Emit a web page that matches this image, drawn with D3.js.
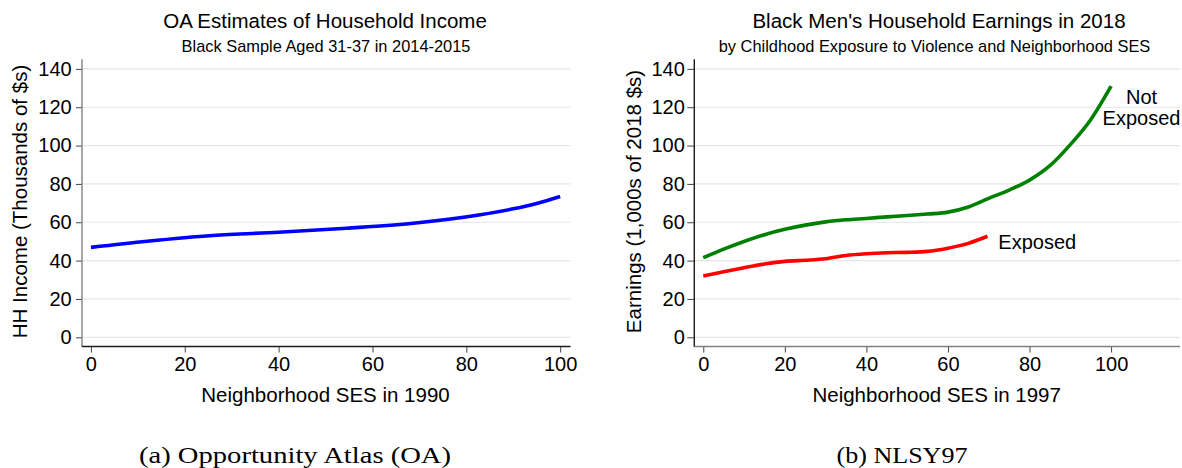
<!DOCTYPE html>
<html>
<head>
<meta charset="utf-8">
<script src="https://cdn.jsdelivr.net/npm/d3@7"></script>
<style>
  html, body { margin: 0; padding: 0; background: #fff; }
  svg text { font-family: "Liberation Sans", Arial, Helvetica, sans-serif; fill: #000; }
  svg text.caption { font-family: "Liberation Serif", "DejaVu Serif", serif; }
</style>
</head>
<body>
<svg id="chart" width="1182" height="468"></svg>
<script>
// ---- Data ----
const yTicks = [0, 20, 40, 60, 80, 100, 120, 140];
const xTicks = [0, 20, 40, 60, 80, 100];

// Panel (a): Opportunity Atlas household income by 1990 neighborhood SES
const oaSES    = [0, 12, 26, 40, 54.5, 68.7, 83, 90, 95, 100];
const oaIncome = [46.9, 50.1, 53.1, 54.8, 56.9, 59.5, 63.9, 67, 69.8, 73.4];

// Panel (b): NLSY97 earnings by 1997 neighborhood SES
const notExpSES      = [0, 5, 10, 15, 20, 25, 30, 35, 40, 45, 50, 55, 60, 65, 70, 75, 80, 85, 90, 95, 100];
const notExpEarnings = [41.5, 46, 50, 53.5, 56.3, 58.5, 60.2, 61.3, 62, 62.8, 63.5, 64.3, 65.3, 68, 72.5, 76.8, 82, 89.5, 100.5, 113.5, 131];
const expSES         = [0, 5, 10, 15, 20, 25, 30, 35, 40, 45, 50, 55, 60, 65, 69.7];
const expEarnings    = [32, 34.2, 36.3, 38.2, 39.6, 40.2, 41, 42.7, 43.6, 44.1, 44.3, 44.8, 46.5, 49, 52.7];

const svg = d3.select("#chart");

function panel(opts) {
  const g = svg.append("g");
  const x = d3.scaleLinear().domain(opts.xDomain).range(opts.xRange);
  const y = d3.scaleLinear().domain([-4.8, 145]).range([346.5, 59.3]);
  const [x0, x1] = opts.xRange;
  const [yb, yt] = y.range();

  // horizontal gridlines
  g.append("g").selectAll("line").data(yTicks).join("line")
    .attr("x1", x0).attr("x2", x1)
    .attr("y1", d => y(d)).attr("y2", d => y(d))
    .attr("stroke", "#e6e6e6").attr("stroke-width", 1.2);

  // y axis
  const ya = g.append("g").attr("transform", `translate(${x0},0)`)
    .call(d3.axisLeft(y).tickValues(yTicks).tickSize(opts.yTickSize).tickPadding(opts.yTickPad));
  ya.select(".domain").remove();
  ya.selectAll(".tick line").attr("stroke", "#444").attr("stroke-width", 1);
  ya.selectAll(".tick text").style("font-size", "20px").attr("fill", "#000");

  // x axis
  const xa = g.append("g").attr("transform", `translate(0,${yb})`)
    .call(d3.axisBottom(x).tickValues(xTicks).tickSize(6).tickPadding(4.5));
  xa.select(".domain").remove();
  xa.selectAll(".tick line").attr("stroke", "#444").attr("stroke-width", 1);
  xa.selectAll(".tick text").style("font-size", "20px").attr("fill", "#000");

  // axis lines
  g.append("line").attr("x1", x0).attr("x2", x0).attr("y1", yt).attr("y2", yb + 0.5)
    .attr("stroke", opts.yAxisColor).attr("stroke-width", 1.4);
  g.append("line").attr("x1", x0).attr("x2", x1).attr("y1", yb).attr("y2", yb)
    .attr("stroke", opts.xAxisColor).attr("stroke-width", 1.4);

  // series
  const line = d3.line().x(d => x(d[0])).y(d => y(d[1])).curve(d3.curveMonotoneX);
  opts.series.forEach(s => {
    g.append("path").datum(d3.zip(s.x, s.y))
      .attr("d", line)
      .attr("fill", "none")
      .attr("stroke", s.color)
      .attr("stroke-width", 3.6)
      .attr("stroke-linecap", "butt");
  });

  // titles
  g.append("text").attr("x", opts.titleX).attr("y", 28.3)
    .attr("text-anchor", "middle").style("font-size", "20.5px").text(opts.title);
  g.append("text").attr("x", opts.subX).attr("y", 51.5)
    .attr("text-anchor", "middle").style("font-size", "16.4px").text(opts.subtitle);

  // axis titles
  g.append("text").attr("transform", `translate(${opts.yLabelX},${201.5}) rotate(-90)`)
    .attr("text-anchor", "middle").style("font-size", "20.5px").text(opts.yLabel);
  g.append("text").attr("x", opts.xLabelX).attr("y", 402)
    .attr("text-anchor", "middle").style("font-size", "20.5px").text(opts.xLabel);

  // sub-figure caption
  g.append("text").attr("class", "caption").attr("x", opts.capX).attr("y", 463)
    .attr("text-anchor", "middle").style("font-size", "24px")
    .attr("textLength", opts.capLen).attr("lengthAdjust", "spacingAndGlyphs")
    .text(opts.caption);

  return { g, x, y };
}

// Panel (a)
panel({
  xDomain: [-1.9, 102.2], xRange: [82, 570.5],
  yTickSize: 6, yTickPad: 4.3,
  yAxisColor: "#808080", xAxisColor: "#1a1a1a",
  series: [{ x: oaSES, y: oaIncome, color: "#0000ff" }],
  title: "OA Estimates of Household Income",
  subtitle: "Black Sample Aged 31-37 in 2014-2015",
  titleX: 325, subX: 326,
  yLabel: "HH Income (Thousands of $s)", yLabelX: 27,
  xLabel: "Neighborhood SES in 1990", xLabelX: 325.5,
  caption: "(a) Opportunity Atlas (OA)", capX: 295, capLen: 312
});

// Panel (b)
const pb = panel({
  xDomain: [-2.2, 116.9], xRange: [694.3, 1180],
  yTickSize: 7, yTickPad: 2.5,
  yAxisColor: "#1a1a1a", xAxisColor: "#808080",
  series: [
    { x: notExpSES, y: notExpEarnings, color: "#008000" },
    { x: expSES, y: expEarnings, color: "#ff0000" }
  ],
  title: "Black Men's Household Earnings in 2018",
  subtitle: "by Childhood Exposure to Violence and Neighborhood SES",
  titleX: 939, subX: 934.5,
  yLabel: "Earnings (1,000s of 2018 $s)", yLabelX: 641,
  xLabel: "Neighborhood SES in 1997", xLabelX: 936.7,
  caption: "(b) NLSY97", capX: 902, capLen: 131
});

// series labels
const notLbl = pb.g.append("text").attr("text-anchor", "middle")
  .attr("x", 1141.5).attr("y", 104).style("font-size", "20px").attr("fill", "#008000");
notLbl.append("tspan").attr("x", 1141.5).text("Not");
notLbl.append("tspan").attr("x", 1141.5).attr("dy", 21).text("Exposed");

pb.g.append("text").attr("x", 998.3).attr("y", 249)
  .style("font-size", "20px").attr("fill", "#ff0000").text("Exposed");
</script>
</body>
</html>
